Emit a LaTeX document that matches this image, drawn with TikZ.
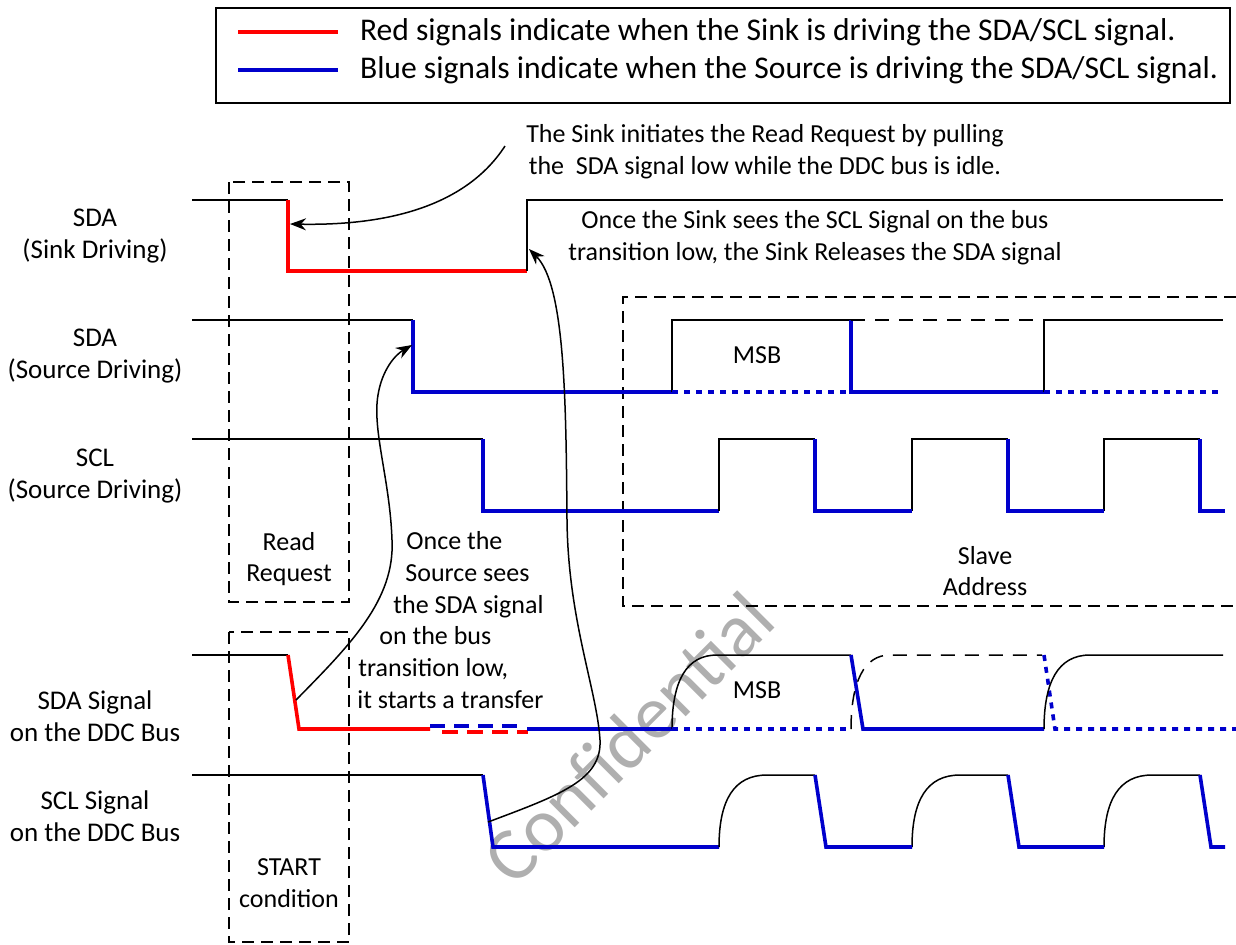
\documentclass[tikz,border=0pt]{standalone}
\usepackage{fontspec}
\setmainfont{Carlito}
\usetikzlibrary{arrows.meta}
\definecolor{sinkred}{RGB}{255,0,0}
\definecolor{srcblue}{RGB}{0,0,204}
\definecolor{wmgray}{RGB}{175,175,175}
\begin{document}
\begin{tikzpicture}[x=0.5pt,y=-0.5pt,
  font=\fontsize{13}{15.9}\selectfont,
  sig/.style={line width=0.75pt},
  sigdash/.style={sig,dash pattern=on 7pt off 5pt},
  sink/.style={line width=1.8pt,sinkred},
  src/.style={line width=1.8pt,srcblue},
  srcdot/.style={src,dash pattern=on 3pt off 3pt},
  box/.style={line width=0.75pt,dash pattern=on 6pt off 3.5pt},
  note/.style={-{Stealth[length=8pt,width=6pt]},line width=0.75pt},
  lbl/.style={align=center,font=\fontsize{13.5}{16}\selectfont}]
\useasboundingbox (0,0) rectangle (1236,944);
\node[wmgray,rotate=45,font=\fontsize{38}{42}\selectfont] (wm) at (628,738) {Confidential};

\draw[line width=0.75pt] (216,8) rectangle (1230,103);
\draw[sink] (238,32) -- (338,32);
\draw[src] (238,70) -- (338,70);
\node[anchor=west,font=\fontsize{15.8}{18}\selectfont] (redkey) at (353,32) {Red signals indicate when the Sink is driving the SDA/SCL signal.};
\node[anchor=west,font=\fontsize{15.8}{18}\selectfont] (bluekey) at (353,70) {Blue signals indicate when the Source is driving the SDA/SCL signal.};

\node[lbl] (sdasink) at (95,236) {SDA\\(Sink Driving)};
\node[lbl] (sdasrc) at (95,356) {SDA\\(Source Driving)};
\node[lbl] (sclsrc) at (95,476) {SCL\\(Source Driving)};
\node[lbl] (sdabus) at (95,716) {SDA Signal\\on the DDC Bus};
\node[lbl] (sclbus) at (95,816) {SCL Signal\\on the DDC Bus};

\draw[box] (229,182) rectangle (349,602);
\node[align=center] (readreq) at (289,559) {Read\\Request};
\draw[box] (229,632) rectangle (349,942);
\node[align=center] (startcond) at (289,883) {START\\condition};
\draw[box] (1236,297) -- (623,297) -- (623,606) -- (1236,606);
\node[align=center] (slaveaddr) at (985,571) {Slave\\Address};

\draw[sig] (192,200) -- (288,200);
\draw[sink] (288,200) -- (288,271) -- (527,271);
\draw[sig] (527,271) -- (527,200) -- (1223,200);

\draw[sig] (192,320) -- (413,320);
\draw[src] (413,320) -- (413,392) -- (672,392);
\draw[sig] (672,392) -- (672,320) -- (851,320);
\draw[srcdot] (672,392) -- (851,392);
\draw[src] (851,320) -- (851,392) -- (1044,392);
\draw[sigdash] (851,320) -- (1044,320);
\draw[sig] (1044,392) -- (1044,320) -- (1223,320);
\draw[srcdot] (1044,392) -- (1220,392);
\node (msbsrc) at (757,355) {MSB};

\draw[sig] (192,439) -- (483,439);
\draw[src] (483,439) -- (483,511) -- (719,511);
\foreach \r in {719,912,1104}
  \draw[sig] (\r,511) -- (\r,439) -- (\r+96,439);
\foreach \f/\n in {815/912,1008/1104,1200/1225}
  \draw[src] (\f,439) -- (\f,511) -- (\n,511);

\draw[sig] (192,655) -- (288,655);
\draw[sink] (288,655) -- (299,729) -- (430,729);
\draw[src,dash pattern=on 7.5pt off 4.5pt] (430,726) -- (517,726);
\draw[sink,dash pattern=on 8pt off 4.5pt] (442,732) -- (528,732);
\draw[src] (527,729) -- (672,729);
\draw[sig] (672,729) .. controls (672,680) and (687,655) .. (717,655) -- (851,655);
\draw[srcdot] (672,729) -- (851,729);
\draw[src] (851,655) -- (863,729) -- (1044,729);
\draw[sigdash] (851,729) .. controls (851,682) and (864,655) .. (890,655) -- (1042,655);
\draw[srcdot] (1044,655) -- (1055,729) -- (1236,729);
\draw[sig] (1044,729) .. controls (1044,682) and (1058,655) .. (1090,655) -- (1223,655);
\node (msbbus) at (757,690) {MSB};

\draw[sig] (192,775) -- (483,775);
\draw[src] (483,775) -- (493,847) -- (719,847);
\foreach \r in {719,912,1104}
  \draw[sig] (\r,847) .. controls (\r,800) and (\r+15,775) .. (\r+48,775) -- (\r+96,775);
\foreach \f/\n in {815/912,1008/1104,1200/1225}
  \draw[src] (\f,775) -- (\f+11,847) -- (\n,847);

\node[align=center] (initnote) at (765,152) {The Sink initiates the Read Request by pulling\\the \ SDA signal low while the DDC bus is idle.};
\node[align=center] (releasenote) at (815,238) {Once the Sink sees the SCL Signal on the bus\\transition low, the Sink Releases the SDA signal};
\node[align=left,anchor=west,inner sep=0pt] (startnote) at (357,620) {\hspace*{24.5pt}Once the\\\hspace*{24pt}Source sees\\\hspace*{18pt}the SDA signal\\\hspace*{11pt}on the bus\\\hspace*{0.5pt}transition low,\\it starts a transfer};

\coordinate (initfrom) at (505,146);
\coordinate (sinkedge) at (290,224);
\coordinate (sclbusfall) at (488,822);
\coordinate (releasept) at (529,249);
\coordinate (sdabusfall) at (296,700);
\coordinate (srcedge) at (412,345);
\draw[note] (initfrom) .. controls (470,200) and (400,226) .. (sinkedge);
\draw[note] (sclbusfall) .. controls (560,795) and (602,780) .. (600,740)
  .. controls (597,690) and (568,620) .. (567,520)
  .. controls (566,400) and (565,285) .. (releasept);
\draw[note] (sdabusfall) .. controls (350,645) and (395,600) .. (392,540)
  .. controls (390,480) and (372,430) .. (378,395)
  .. controls (382,370) and (395,355) .. (srcedge);
\end{tikzpicture}
\end{document}
